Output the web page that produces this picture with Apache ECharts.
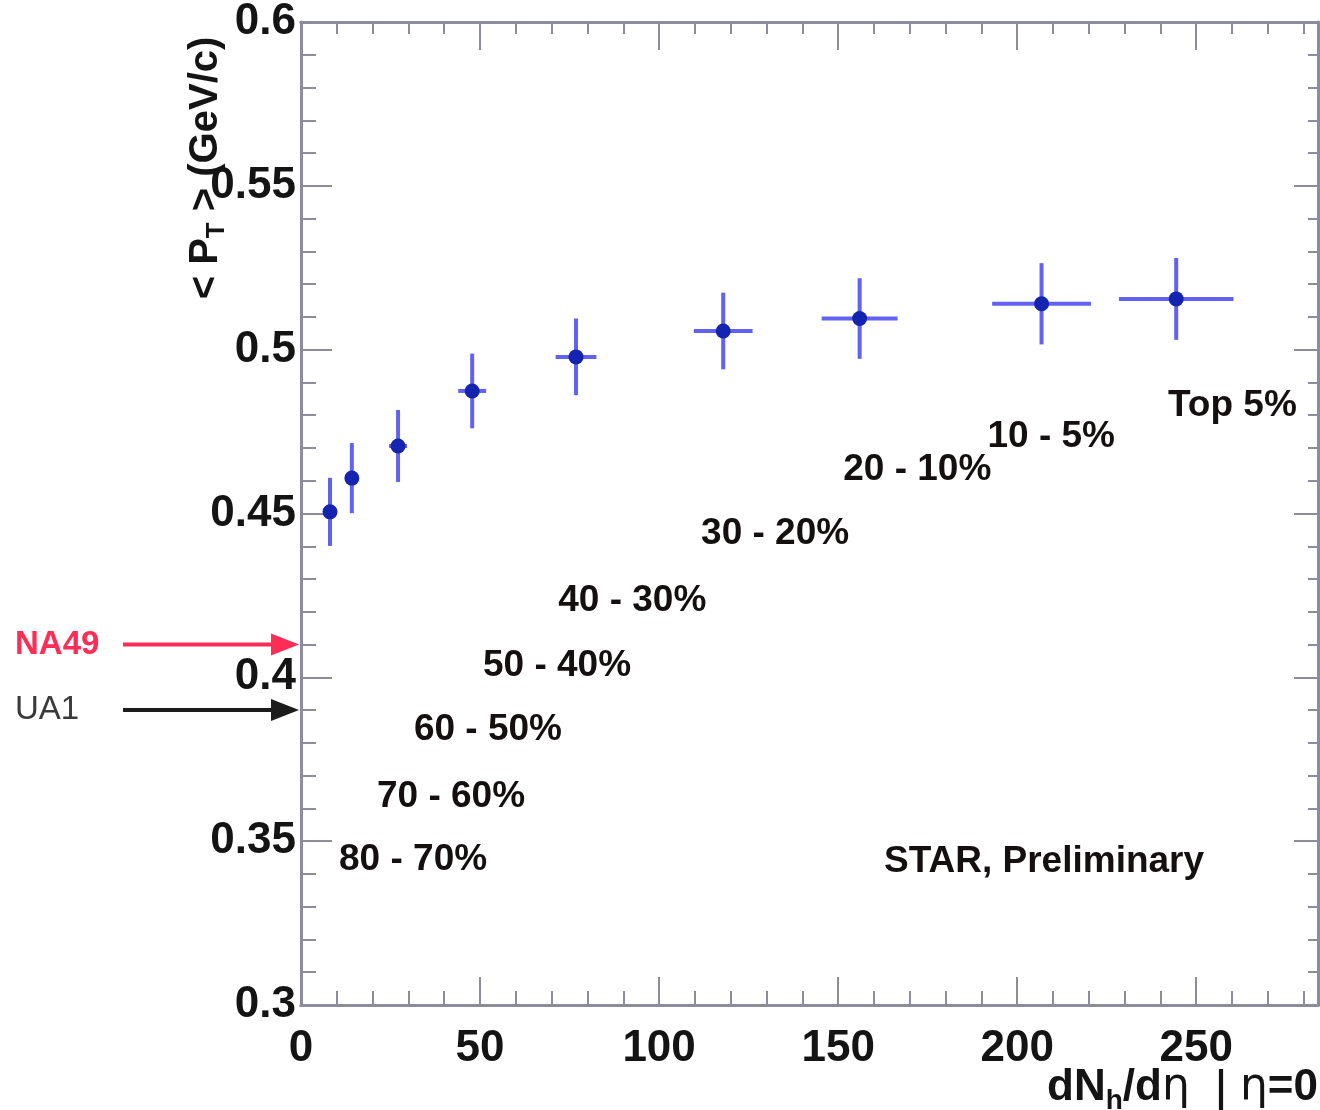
<!DOCTYPE html>
<html>
<head>
<meta charset="utf-8">
<script src="https://cdn.jsdelivr.net/npm/echarts@6/dist/echarts.min.js"></script>
<style>
  html, body { margin: 0; background: #fff; }
  #chart { width: 1320px; height: 1110px; }
</style>
</head>
<body>
<div id="chart"></div>
<script>
// <pT> vs dNh/deta, STAR preliminary
const multiplicity = [8.1, 14.2, 27.1, 47.8, 76.8, 117.9, 156.0, 206.8, 244.4];
const meanPt = [0.4505, 0.4608, 0.4706, 0.4874, 0.4978, 0.5057, 0.5095, 0.5140, 0.5155];
const multErr = [1.0, 1.5, 2.5, 3.9, 5.7, 8.2, 10.6, 13.8, 16.0];
const ptErr = [0.0104, 0.0107, 0.0110, 0.0114, 0.0117, 0.0117, 0.0123, 0.0124, 0.0125];

const centralityText = ['80 - 70%', '70 - 60%', '60 - 50%', '50 - 40%', '40 - 30%',
  '30 - 20%', '20 - 10%', '10 - 5%', 'Top 5%', 'STAR, Preliminary'];
const centralityX = [31.3, 41.9, 52.2, 71.5, 92.5, 132.4, 172.1, 209.5, 260.1, 207.5];
const centralityY = [0.3443, 0.3635, 0.3840, 0.4035, 0.4233, 0.4438, 0.4633, 0.4734, 0.4828, 0.3437];

const refNames = ['NA49', 'UA1'];
const refValues = [0.41, 0.39];
const refColors = ['#ff2d55', '#1c1c1c'];
const refTextColors = ['#ff2d55', '#3a3a3a'];

const xMin = 0, xMax = 284;
const yMin = 0.3, yMax = 0.6;

const chart = echarts.init(document.getElementById('chart'));

const axisGray = '#8c8c9c';
const fontFam = '"Liberation Sans", Arial, sans-serif';

function xAxisDef(pos, interval, len, labels) {
  return {
    type: 'value', position: pos, min: xMin, max: xMax, interval: interval,
    axisLine: { show: true, onZero: false, lineStyle: { color: axisGray, width: 3 } },
    axisTick: { show: true, inside: true, length: len, lineStyle: { color: axisGray, width: 2 } },
    axisLabel: {
      show: labels, margin: 22, showMaxLabel: false,
      color: '#141414', fontSize: 44, fontWeight: 'bold', fontFamily: fontFam
    },
    splitLine: { show: false }
  };
}

function yAxisDef(pos, majorLen, minorLen, labels) {
  return {
    type: 'value', position: pos, min: yMin, max: yMax, interval: 0.05,
    axisLine: { show: true, onZero: false, lineStyle: { color: axisGray, width: 3 } },
    axisTick: { show: true, inside: true, length: majorLen, lineStyle: { color: axisGray, width: 2 } },
    minorTick: { show: true, splitNumber: 5, length: minorLen, lineStyle: { color: axisGray, width: 2 } },
    axisLabel: {
      show: labels, margin: 5,
      color: '#141414', fontSize: 44, fontWeight: 'bold', fontFamily: fontFam,
      formatter: v => String(+v.toFixed(2))
    },
    splitLine: { show: false },
    minorSplitLine: { show: false }
  };
}

const pointData = multiplicity.map((x, i) => [x, meanPt[i], multErr[i], ptErr[i]]);
const labelData = centralityText.map((t, i) => ({ value: [centralityX[i], centralityY[i]], name: t }));
const refData = refValues.map((v, i) => [0, v]);

chart.setOption({
  animation: false,
  backgroundColor: '#ffffff',
  grid: { left: 301, right: 2, top: 22, bottom: 105, containLabel: false },
  xAxis: [
    xAxisDef('bottom', 50, 28, true),
    xAxisDef('bottom', 10, 14, false),
    xAxisDef('top', 50, 28, false),
    xAxisDef('top', 10, 12, false)
  ],
  yAxis: [
    yAxisDef('left', 31, 15, true),
    yAxisDef('right', 24, 10, false)
  ],
  graphic: [
    {
      type: 'text', x: 206, y: 168, rotation: Math.PI / 2,
      style: {
        text: '< P{sub|T} > (GeV/c)',
        align: 'center', verticalAlign: 'middle',
        fill: '#141414',
        font: 'bold 40px ' + fontFam,
        rich: {
          sub: { fontSize: 26, fontWeight: 'bold', fontFamily: fontFam, fill: '#141414', padding: [22, 0, 0, 0] }
        }
      }
    },
    {
      type: 'text', x: 1318, y: 1088,
      style: {
        text: 'dN{sub|h}/d{eta|η}  {bar||} {eta|η}=0',
        align: 'right', verticalAlign: 'middle',
        fill: '#141414',
        font: 'bold 44px ' + fontFam,
        rich: {
          sub: { fontSize: 28, fontWeight: 'bold', fontFamily: fontFam, fill: '#141414', padding: [26, 0, 0, 0] },
          eta: { fontSize: 44, fontWeight: 'normal', fontFamily: '"DejaVu Sans", sans-serif', fill: '#141414' },
          bar: { fontSize: 52, fontWeight: 'normal', fontFamily: fontFam, fill: '#141414', padding: [10, 0, 0, 0] }
        }
      }
    }
  ],
  series: [
    {
      type: 'custom',
      name: 'STAR',
      xAxisIndex: 0, yAxisIndex: 0,
      data: pointData,
      encode: { x: 0, y: 1 },
      renderItem: (params, api) => {
        const x = api.value(0), y = api.value(1), ex = api.value(2), ey = api.value(3);
        const c = api.coord([x, y]);
        const l = api.coord([x - ex, y]);
        const r = api.coord([x + ex, y]);
        const t = api.coord([x, y + ey]);
        const b = api.coord([x, y - ey]);
        const barStyle = { stroke: 'rgba(70,70,240,0.85)', lineWidth: 4 };
        return {
          type: 'group',
          children: [
            { type: 'line', shape: { x1: l[0], y1: c[1], x2: r[0], y2: c[1] }, style: barStyle },
            { type: 'line', shape: { x1: c[0], y1: t[1], x2: c[0], y2: b[1] }, style: barStyle },
            { type: 'circle', shape: { cx: c[0], cy: c[1], r: 7.5 }, style: { fill: '#1424b0' } }
          ]
        };
      }
    },
    {
      type: 'scatter',
      xAxisIndex: 0, yAxisIndex: 0,
      symbolSize: 0,
      itemStyle: { opacity: 1 },
      data: labelData,
      label: {
        show: true, position: 'inside', opacity: 1,
        formatter: p => p.name,
        color: '#141010', fontSize: 37, fontWeight: 'bold', fontFamily: fontFam
      },
      silent: true
    },
    {
      type: 'custom',
      xAxisIndex: 0, yAxisIndex: 0,
      clip: false,
      data: refData,
      encode: { x: 0, y: 1 },
      renderItem: (params, api) => {
        const p = api.coord([0, api.value(1)]);
        const col = refColors[params.dataIndex];
        return {
          type: 'group',
          children: [
            { type: 'line', shape: { x1: p[0] - 178, y1: p[1], x2: p[0] - 22, y2: p[1] }, style: { stroke: col, lineWidth: 4 } },
            { type: 'polygon', shape: { points: [[p[0] - 30, p[1] - 11], [p[0] - 2, p[1]], [p[0] - 30, p[1] + 11]] }, style: { fill: col } },
            {
              type: 'text', x: p[0] - 286, y: p[1],
              style: {
                text: refNames[params.dataIndex], fill: refTextColors[params.dataIndex],
                font: (params.dataIndex === 0 ? 'bold ' : '') + '33px ' + fontFam,
                align: 'left', verticalAlign: 'middle'
              }
            }
          ]
        };
      }
    }
  ]
});
</script>
</body>
</html>
